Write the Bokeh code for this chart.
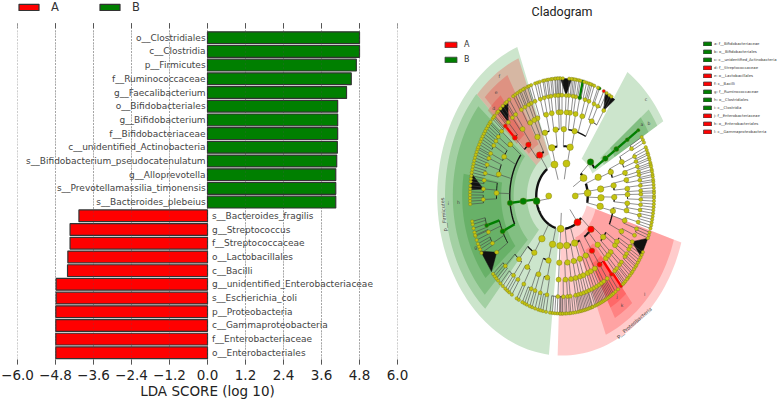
import math
from bokeh.plotting import figure
from bokeh.layouts import row
from bokeh.models import (ColumnDataSource, Range1d, FixedTicker, Legend, LegendItem)
from bokeh.core.properties import value
from bokeh.embed import file_html
from bokeh.resources import INLINE

# ---------- LDA bars ----------
features = ["o__Clostridiales", "c__Clostridia", "p__Firmicutes", "f__Ruminococcaceae",
            "g__Faecalibacterium", "o__Bifidobacteriales", "g__Bifidobacterium",
            "f__Bifidobacteriaceae", "c__unidentified_Actinobacteria",
            "s__Bifidobacterium_pseudocatenulatum", "g__Alloprevotella",
            "s__Prevotellamassilia_timonensis", "s__Bacteroides_plebeius",
            "s__Bacteroides_fragilis", "g__Streptococcus", "f__Streptococcaceae",
            "o__Lactobacillales", "c__Bacilli", "g__unidentified_Enterobacteriaceae",
            "s__Escherichia_coli", "p__Proteobacteria", "c__Gammaproteobacteria",
            "f__Enterobacteriaceae", "o__Enterobacteriales"]
lda_scores = [4.80, 4.80, 4.70, 4.54, 4.39, 4.11, 4.11, 4.11, 4.10, 4.08, 4.05, 4.05, 4.05,
              -4.06, -4.34, -4.34, -4.41, -4.42, -4.78, -4.78, -4.79, -4.79, -4.79, -4.79]
tick_values = [-6.0, -4.8, -3.6, -2.4, -1.2, 0, 1.2, 2.4, 3.6, 4.8, 6.0]
tick_labels = ["\u22126.0", "\u22124.8", "\u22123.6", "\u22122.4", "\u22121.2", "0.0",
               "1.2", "2.4", "3.6", "4.8", "6.0"]
group_names = ["A", "B"]
RED, GREEN = "#ff0000", "#007f00"

# ---------- cladogram data: child angles (deg) keyed by the parent's angle ----------
kingdoms = [180, 0]
phyla = {180: [107, 189, 267], 0: [80, 33, 5, -53]}
classes = {107: [105], 189: [125, 186, 239, 256], 267: [267], 80: [78], 33: [43],
           5: [22, 8, -2, -12], -53: [-83, -71, -42]}
orders = {105: [109, 97], 125: [130, 118], 186: [186], 239: [238], 256: [255], 267: [267],
          78: [76, 88], 43: [34], 22: [21], 8: [9], -2: [-1], -12: [-13],
          -83: [-84, -77], -71: [-70, -63], -42: [-55, -38, -47]}
families = {109: [112, 104], 97: [99, 93], 130: [136, 127], 118: [119, 115],
            186: [205, 178, 165, 152, 142], 238: [238, 229], 255: [249, 257], 267: [267],
            76: [63, 72, 78, 83], 88: [86, 91], 34: [34], 21: [24, 16], 9: [11, 5], -1: [1, -5],
            -13: [-10, -17, -25], -84: [-87, -82], -77: [-78, -74], -70: [-71, -67],
            -63: [-64, -60], -55: [-55], -38: [-42, -36, -33], -47: [-48, -45]}
genera = {112: [113, 110], 104: [106, 103], 99: [100, 98], 93: [95, 92], 136: [136, 133],
          127: [129, 126], 119: [121, 118], 115: [115], 205: [197, 208, 214, 201],
          178: [182, 176, 171], 165: [167, 162, 158], 152: [155, 150, 147], 142: [144, 140],
          238: [236, 241], 229: [224, 232], 249: [247, 250], 257: [254, 259], 267: [267],
          63: [58, 63, 66], 72: [70, 73], 78: [77, 80], 83: [82, 85], 86: [87], 91: [90, 93],
          34: [34], 24: [28, 23, 20], 16: [17, 14], 11: [12, 9], 5: [6, 3], 1: [1, -2],
          -5: [-5, -8], -10: [-11], -17: [-15, -19], -25: [-23, -27], -87: [-89, -86],
          -82: [-84, -80], -78: [-78, -76], -74: [-74, -72], -71: [-70], -67: [-68, -66],
          -64: [-64, -62], -60: [-60, -58], -55: [-51, -55], -42: [-43, -41], -36: [-37, -35],
          -33: [-32, -30], -48: [-48], -45: [-46]}
species = {113: [114, 112], 110: [111, 109.5], 106: [107, 105.5], 103: [104, 102], 100: [101, 99.5],
           98: [98.5, 97], 95: [96, 94.5], 92: [93, 91.5], 136: [137, 135], 133: [134, 132],
           129: [130, 128], 126: [127, 125], 121: [122, 120.5], 118: [119, 117.5], 115: [116.5, 115],
           197: [198, 196, 194, 192.5], 201: [202, 200, 199.5], 208: [209, 207, 205.5, 204],
           182: [184, 182.5, 181, 179.5], 176: [178, 176.5, 175], 171: [173, 171.5, 170],
           167: [168.5, 167, 165.5], 162: [164, 162.5, 161], 158: [159.5, 158, 156.5],
           155: [155.5, 154], 150: [152.5, 151, 149.5], 147: [148, 146.5, 145], 144: [143.5, 142],
           140: [141, 139, 138], 236: [237, 235], 241: [242, 240.5], 224: [226, 224.5, 223, 221.5],
           232: [233.5, 232, 230, 228], 247: [247.5, 246, 244.5], 250: [251, 249.5], 254: [255, 253],
           259: [260, 258, 256.5], 267: [270, 268.5, 267, 265.5, 264, 262.5],
           58: [59, 57.5], 66: [66, 67], 63: [63, 61], 70: [71, 69.5], 73: [74.5, 73, 72],
           77: [77, 76], 80: [81, 79.5, 78.5], 82: [83, 82], 85: [85.5, 84], 90: [91, 89.5],
           93: [94, 92.5], 34: [34], 28: [30, 28.5, 27], 23: [24.5, 23, 21.5], 20: [20.5, 19],
           17: [18, 16.5, 15.5], 14: [14.5, 13], 12: [12, 10.5], 9: [9.5, 8], 6: [7, 5.5], 3: [4, 2.5],
           1: [1.5, 0], -2: [-1, -2.5], -5: [-4, -5.5], -8: [-7, -8.5], -11: [-10, -11.5, -13],
           -15: [-14.5, -16], -19: [-18, -19.5, -21], -89: [-91, -89.5, -88], -86: [-87, -85.5],
           -84: [-84.5, -83], -80: [-81.5, -80, -79], -78: [-78, -77], -76: [-76, -75],
           -74: [-74, -73], -72: [-72, -71], -70: [-70.5, -69], -68: [-68, -67], -66: [-66, -65],
           -64: [-64, -63], -62: [-62, -61], -60: [-60, -59], -58: [-58, -57], -55: [-56, -54.5],
           -51: [-50, -52.5], -48: [-48.5, -47.5], -46: [-46.5, -45], -43: [-44, -42.5], -41: [-41, -40],
           -37: [-38.5, -37], -35: [-36, -34.5], -32: [-33, -31.5], -30: [-30, -28.5]}
# genus angle -> (low, high) angle of a fan of leaves too dense to show single tips
fans = {214: (208, 220), 87: (84, 91), 176: (169, 177), 133: (126, 133), 58: (55, 62), -27: (-31, -21)}

green_nodes = {1: [189], 2: [186, 43], 3: [186, 34], 4: [205, 34], 5: [197, 34, 77], 6: [34, 77, 66]}
red_nodes = {1: [-53], 2: [125, -42], 3: [130, -55], 4: [136, -55], 5: [136, -51], 6: [63, -50]}

# wedge: angle low, angle high, inner ring, outer ring, colour
wedges = [(111, 264, 33, 160, GREEN), (137, 229, 45, 150, GREEN), (140, 225, 62, 140, GREEN),
          (170, 220, 78, 128, GREEN), (112, 137, 45, 149, RED), (120, 135, 60, 140, RED),
          (128, 138, 78, 128, RED), (30, 56, 45, 150, GREEN), (30, 38, 62, 141, GREEN),
          (30, 38, 78, 128, GREEN), (268, 343, 33, 160, RED), (292, 343, 45, 150, RED),
          (299, 310, 62, 140, RED), (299, 310, 78, 128, RED)]
clade_letters = ["f", "e", "d", "c", "b", "a", "i", "h", "g", "l", "k", "j"]
letter_angle = [124, 129, 135, 42, 33, 35, 183, 183, 205, -43, -55, -55]
letter_ring = [144, 134, 124, 145, 133, 125, 146, 133, 122, 145, 134, 123]
clade_names = ["a: f__Bifidobacteriaceae", "b: o__Bifidobacteriales", "c: c__unidentified_Actinobacteria",
               "d: f__Streptococcaceae", "e: o__Lactobacillales", "f: c__Bacilli",
               "g: f__Ruminococcaceae", "h: o__Clostridiales", "i: c__Clostridia",
               "j: f__Enterobacteriaceae", "k: o__Enterobacteriales", "l: c__Gammaproteobacteria"]
clade_colors = [GREEN, GREEN, GREEN, RED, RED, RED, GREEN, GREEN, GREEN, RED, RED, RED]

# ---------- left panel ----------
n = len(features)
rows = list(range(n - 1, -1, -1))
UNIT = 13.74  # px per bar row
FRAME_H = 365
y_low = -11.7 / UNIT
y_high = n - 1 + 37.3 / UNIT
grid_top = n - 1 + 14.6 / UNIT
left = figure(width=415, height=401, output_backend="svg", toolbar_location=None,
              x_range=Range1d(-6, 6), y_range=Range1d(y_low, y_high),
              min_border_left=17, min_border_right=18, min_border_top=0, min_border_bottom=36,
              outline_line_color=None)
left.segment(x0=tick_values, x1=tick_values, y0=[y_low] * 11, y1=[grid_top] * 11,
             line_color="#777777", line_dash="1 2", line_width=1, level="underlay")
src = ColumnDataSource(dict(y=rows, v=lda_scores, c=[GREEN if s > 0 else RED for s in lda_scores]))
bars = left.hbar(y="y", left=0, right="v", height=0.86, source=src, fill_color="c",
                 line_color="#333333", line_width=1.2)
left.segment(x0=tick_values, x1=tick_values, y0=[y_low] * 11, y1=[grid_top] * 11,
             line_color="#555555", line_dash="1 3", line_width=1, line_alpha=0.45)
left.segment(x0=tick_values, x1=tick_values, y0=[grid_top] * 11, y1=[grid_top - 5 / UNIT] * 11,
             line_color="#555555", line_width=1)
pos = ColumnDataSource(dict(y=[r for r, s in zip(rows, lda_scores) if s > 0],
                            t=[f for f, s in zip(features, lda_scores) if s > 0],
                            x=[-0.06] * 13))
neg = ColumnDataSource(dict(y=[r for r, s in zip(rows, lda_scores) if s < 0],
                            t=[f for f, s in zip(features, lda_scores) if s < 0],
                            x=[0.14] * 11))
for s, al in ((pos, "right"), (neg, "left")):
    left.text(x="x", y="y", text="t", source=s, text_align=al, text_baseline="middle",
              text_font=value("DejaVu Sans"), text_font_size="9px", text_color="#444444")
left.yaxis.visible = False
left.grid.visible = False
ax = left.xaxis[0]
ax.ticker = FixedTicker(ticks=tick_values)
ax.major_label_overrides = dict(zip(tick_values, tick_labels))
ax.major_label_text_font = "DejaVu Sans"
ax.major_label_text_font_size = "13.5px"
ax.major_label_text_color = "#222222"
ax.axis_line_color = None
ax.major_tick_in = 5
ax.major_tick_out = 0
ax.minor_tick_line_color = None
ax.major_tick_line_color = "#555555"
ax.axis_label = "LDA SCORE (log 10)"
ax.axis_label_text_font = "DejaVu Sans"
ax.axis_label_text_font_style = "normal"
ax.axis_label_text_font_size = "13.5px"
ax.axis_label_text_color = "#222222"
ax.axis_label_standoff = 0
ax.major_label_standoff = 5
leg = Legend(items=[LegendItem(label=group_names[0], renderers=[bars], index=lda_scores.index(-4.06)),
                    LegendItem(label=group_names[1], renderers=[bars], index=0)],
             orientation="horizontal", location=(-1, FRAME_H - 15), border_line_color=None,
             background_fill_alpha=0, glyph_width=25, glyph_height=8, label_height=10,
             label_standoff=10, spacing=26, padding=0, margin=0, label_text_font="DejaVu Sans",
             label_text_font_size="11.5px", label_text_color="#333333")
left.add_layout(leg)

# ---------- right panel (its plot area lines up with the left one: FRAME_H tall) ----------
XS = 0.78  # reference is squeezed horizontally
cx, cy = 561.5, 196.0
right = figure(width=368, height=401, output_backend="svg", toolbar_location=None,
               x_range=Range1d((415 - cx) / XS, (783 - cx) / XS),
               y_range=Range1d(cy - FRAME_H, cy), min_border=0, outline_line_color=None)
right.axis.visible = False
right.grid.visible = False


def polar(r, a):
    return r * math.cos(math.radians(a)), r * math.sin(math.radians(a))


def arc(r, a0, a1):
    m = max(2, int(abs(a1 - a0) / 2) + 2)
    pts = [polar(r, a0 + (a1 - a0) * i / (m - 1)) for i in range(m)]
    return [p[0] for p in pts], [p[1] for p in pts]


wx, wy, wc = [], [], []
for lo, hi, r0, r1, c in wedges:
    ax0, ay0 = arc(r1, lo, hi)
    ax1, ay1 = arc(r0, hi, lo)
    wx.append(ax0 + ax1)
    wy.append(ay0 + ay1)
    wc.append(c)
right.patches(wx, wy, fill_color=wc, fill_alpha=0.2, line_color=None)

levels = [None, phyla, classes, orders, families, genera, species]
RING = [17, 33, 50, 67, 84, 101, 118]
WIDTH = [1.0, 2.4, 2.0, 1.4, 0.9, 0.6]
node_size = [6, 7, 6.5, 5.5, 5, 4, 3.3]
lines_x, lines_y, lines_c, lines_w = [], [], [], []
nodes = {0: list(kingdoms)}
for lev in range(1, 7):
    nodes[lev] = []
    for parent in nodes[lev - 1]:
        kids = levels[lev].get(parent, [])
        if not kids:
            continue
        nodes[lev].extend(kids)
        marks = green_nodes.get(lev, []) + red_nodes.get(lev, [])
        pm = green_nodes.get(lev - 1, []) + red_nodes.get(lev - 1, [])
        if lev > 1:
            lo, hi = min(kids + [parent]), max(kids + [parent])
            ax0, ay0 = arc(RING[lev - 1], lo, hi)
            lines_x.append(ax0)
            lines_y.append(ay0)
            lines_c.append("#111111")
            lines_w.append(WIDTH[lev - 1])
        for k in kids:
            p0, p1 = polar(RING[lev - 1], k), polar(RING[lev], k)
            lines_x.append([p0[0], p1[0]])
            lines_y.append([p0[1], p1[1]])
            is_green = k in green_nodes.get(lev, [])
            hot = k in marks and parent in pm and (is_green or lev >= 5)
            col = "#444444"
            if hot:
                col = GREEN if is_green else RED
            lines_c.append(col)
            lines_w.append(2.4 if hot else 0.6)

# dense fans
fx, fy = [], []
for g, (lo, hi) in fans.items():
    a = polar(RING[5], g)
    b, c = polar(RING[6], lo), polar(RING[6], hi)
    fx.append([a[0], b[0], c[0]])
    fy.append([a[1], b[1], c[1]])
right.patches(fx, fy, fill_color="#111111", line_color="#111111", line_width=0.5)
right.multi_line(lines_x, lines_y, line_color=lines_c, line_width=lines_w)

for lev in range(0, 7):
    ang = nodes[lev]
    xy = [polar(RING[lev], a) for a in ang]
    cols = [GREEN if a in green_nodes.get(lev, []) else RED if a in red_nodes.get(lev, []) else "#c4c410" for a in ang]
    right.scatter([p[0] for p in xy], [p[1] for p in xy], size=node_size[lev], fill_color=cols,
                  line_color="#77771a", line_width=0.4)

lx = [polar(r, a)[0] for r, a in zip(letter_ring, letter_angle)]
ly = [polar(r, a)[1] for r, a in zip(letter_ring, letter_angle)]
right.text(lx, ly, text=clade_letters, text_font=value("DejaVu Sans"), text_font_size="4.5px",
           text_align="center", text_baseline="middle", text_color="#444444")
pa = polar(153, 187)
right.text([pa[0]], [pa[1]], text=["p__Firmicutes"], angle=[95], angle_units="deg",
           text_font=value("DejaVu Sans"), text_font_size="5px", text_align="center",
           text_baseline="middle", text_color="#444444")
pb = polar(157, -54)
right.text([pb[0]], [pb[1]], text=["p__Proteobacteria"], angle=[40], angle_units="deg",
           text_font=value("DejaVu Sans"), text_font_size="5px", text_align="center",
           text_baseline="middle", text_color="#444444")
right.text([0], [cy - 11], text=["Cladogram"],
           text_font=value("Roboto"), text_font_size="12.5px", text_align="center",
           text_baseline="middle", text_color="#222222")

# swatches for the legends: one row per clade, drawn outside the visible range
swatch = ColumnDataSource(dict(l=[400] * 12, r=[410] * 12, b=[400] * 12, t=[410] * 12, c=clade_colors))
sw = right.quad(left="l", right="r", bottom="b", top="t", source=swatch, fill_color="c",
                line_color="#444444", line_width=0.8)
leg2 = Legend(items=[LegendItem(label=group_names[0], renderers=[sw], index=clade_colors.index(RED)),
                     LegendItem(label=group_names[1], renderers=[sw], index=clade_colors.index(GREEN))],
              location=(28, FRAME_H - 65), border_line_color=None, background_fill_alpha=0,
              glyph_width=15, glyph_height=7, label_height=7, label_standoff=6, spacing=6,
              padding=0, margin=0, label_text_font="DejaVu Sans", label_text_font_size="8px",
              label_text_color="#333333")
right.add_layout(leg2)
items = [LegendItem(label=name, renderers=[sw], index=i) for i, name in enumerate(clade_names)]
leg3 = Legend(items=items, location=(287, FRAME_H - 135), border_line_color=None, background_fill_alpha=0,
              glyph_width=10, glyph_height=5, label_height=5, label_standoff=2, spacing=3,
              padding=0, margin=0, label_text_font="DejaVu Sans", label_text_font_size="3.8px",
              label_text_color="#333333")
right.add_layout(leg3)

page = row(left, right, spacing=0)
open("out.html", "w").write(file_html(page, INLINE))
